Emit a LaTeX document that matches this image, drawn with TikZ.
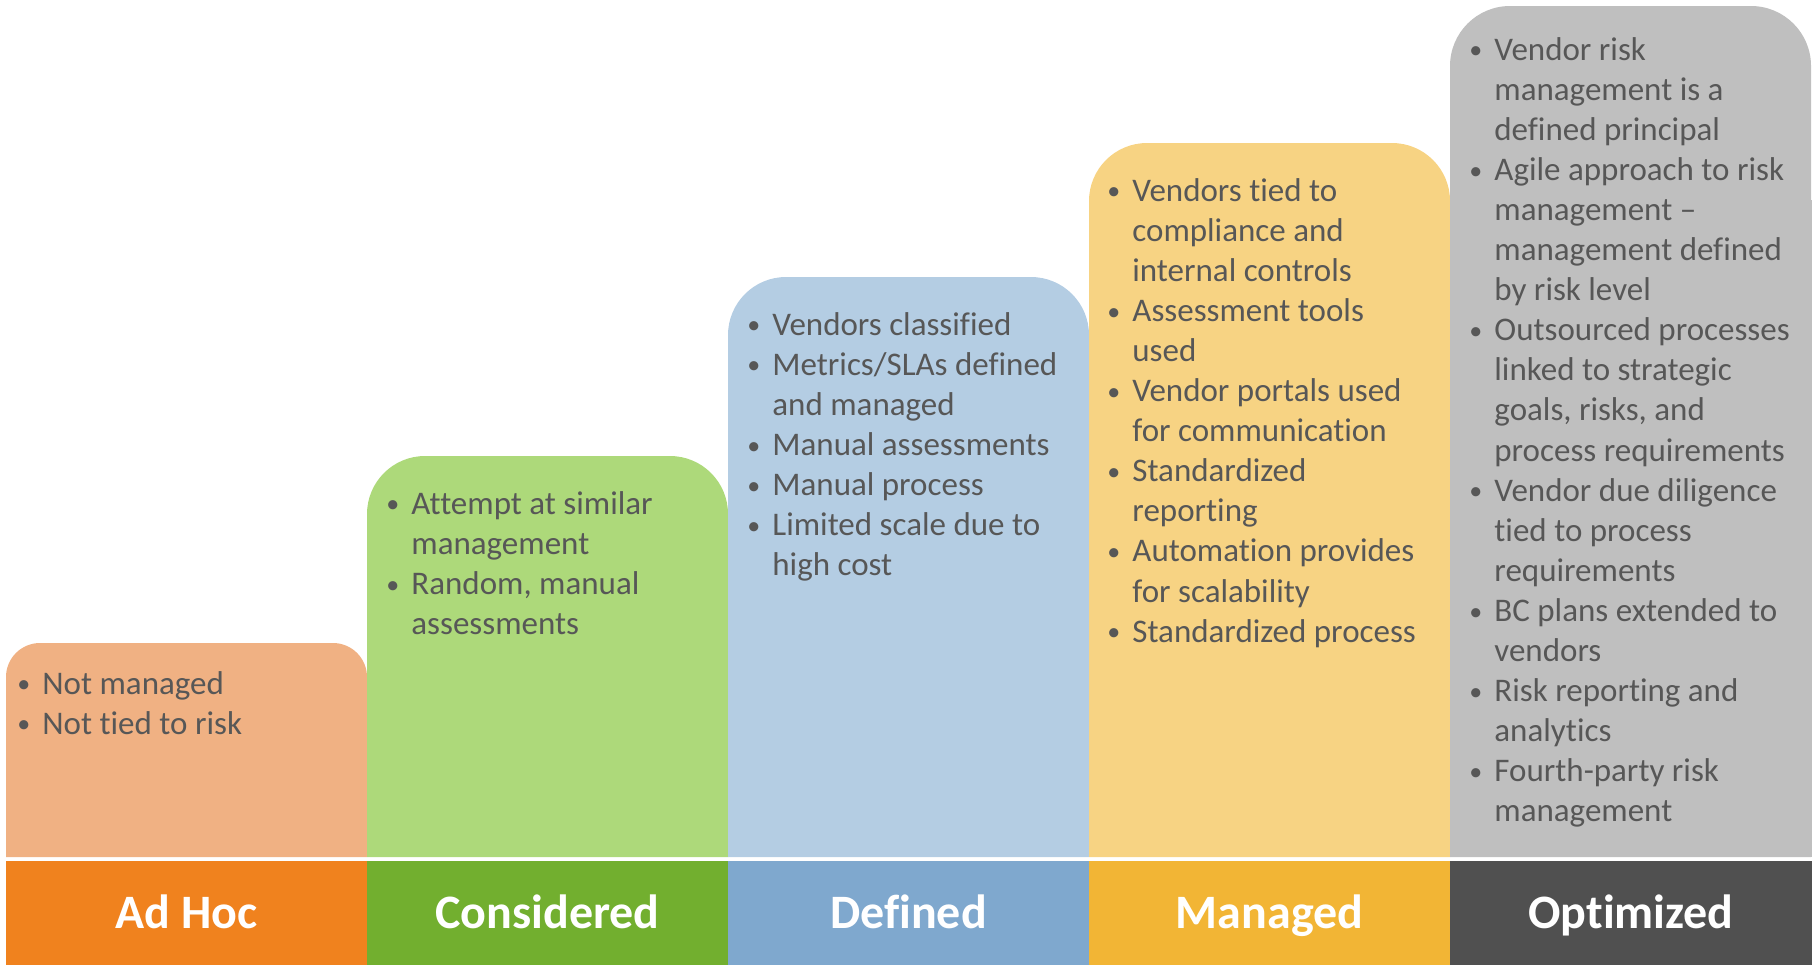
\documentclass[tikz,border=0pt]{standalone}
\usepackage{fontspec}
\setmainfont{Carlito}[Ligatures=NoCommon]
\usetikzlibrary{positioning}

\definecolor{adhocLight}{HTML}{F0B183}
\definecolor{adhocDark}{HTML}{F0821E}
\definecolor{consLight}{HTML}{ADD97A}
\definecolor{consDark}{HTML}{72AF2F}
\definecolor{defLight}{HTML}{B4CDE3}
\definecolor{defDark}{HTML}{7FA8CE}
\definecolor{manLight}{HTML}{F7D383}
\definecolor{manDark}{HTML}{F2B535}
\definecolor{optLight}{HTML}{BFBFBF}
\definecolor{optDark}{HTML}{505050}
\definecolor{bodytext}{HTML}{575757}

% one bullet point, continuation lines hang under the text
\newcommand\pitem[1]{\par\noindent\hangindent=12.5pt\hangafter=1\makebox[12.5pt][l]{\raisebox{0.6pt}{\fontsize{13}{13}\selectfont\textbullet}}#1}
% block of bullets, baseline on first line
\newcommand\blist[1]{\vtop{\hsize=175pt\raggedright\fontsize{16.5}{20.05}\selectfont#1}}

\begin{document}
\begin{tikzpicture}[x=0.5pt,y=-0.5pt,
    bar/.style={minimum width=180.5pt,minimum height=52pt,inner sep=0pt,
      text height=16pt,text depth=1pt,
      text=white,font=\fontsize{24}{28}\selectfont\bfseries},
    textblock/.style={anchor=base west,inner sep=0pt,text=bodytext}]
    \useasboundingbox (0,0) rectangle (1814,965);

    % stair boxes
    \foreach \x/\top/\r/\c in {6/643/17/adhocLight,367/456/29/consLight,
        728/277/29/defLight,1089/143/29/manLight,1450/6/30/optLight}
      \fill[\c] (\x,857) [rounded corners=\r pt] -- (\x,\top) -- (\x+361,\top)
        [sharp corners] -- (\x+361,857) -- cycle;
    \fill[optLight] (1811,857) rectangle (1812,200);

    % level bars
    \node[bar,fill=adhocDark] (adhoc)      at (186.5,913) {Ad Hoc};
    \node[bar,fill=consDark]  (considered) at (547.5,913) {Considered};
    \node[bar,fill=defDark]   (defined)    at (908.5,913) {Defined};
    \node[bar,fill=manDark]   (managed)    at (1269.5,913) {Managed};
    \node[bar,fill=optDark,minimum width=181pt] (optimized) at (1631,913) {Optimized};

    % bullet texts
    \node[textblock] (adhocText) at (17,694) {\blist{%
      \pitem{Not managed}
      \pitem{Not tied to risk}}};
    \node[textblock] (consText) at (386,514) {\blist{%
      \pitem{Attempt at similar\newline management}
      \pitem{Random, manual\newline assessments}}};
    \node[textblock] (defText) at (747,335) {\blist{%
      \pitem{Vendors classified}
      \pitem{Metrics/SLAs defined\newline and managed}
      \pitem{Manual assessments}
      \pitem{Manual process}
      \pitem{Limited scale due to\newline high cost}}};
    \node[textblock] (manText) at (1107,201) {\blist{%
      \pitem{Vendors tied to\newline compliance and\newline internal controls}
      \pitem{Assessment tools\newline used}
      \pitem{Vendor portals used\newline for communication}
      \pitem{Standardized\newline reporting}
      \pitem{Automation provides\newline for scalability}
      \pitem{Standardized process}}};
    \node[textblock] (optText) at (1469,60) {\blist{%
      \pitem{Vendor risk\newline management is a\newline defined principal}
      \pitem{Agile approach to risk\newline management --\newline management defined\newline by risk level}
      \pitem{Outsourced processes\newline linked to strategic\newline goals, risks, and\newline process requirements}
      \pitem{Vendor due diligence\newline tied to process\newline requirements}
      \pitem{BC plans extended to\newline vendors}
      \pitem{Risk reporting and\newline analytics}
      \pitem{Fourth-party risk\newline management}}};
\end{tikzpicture}
\end{document}
